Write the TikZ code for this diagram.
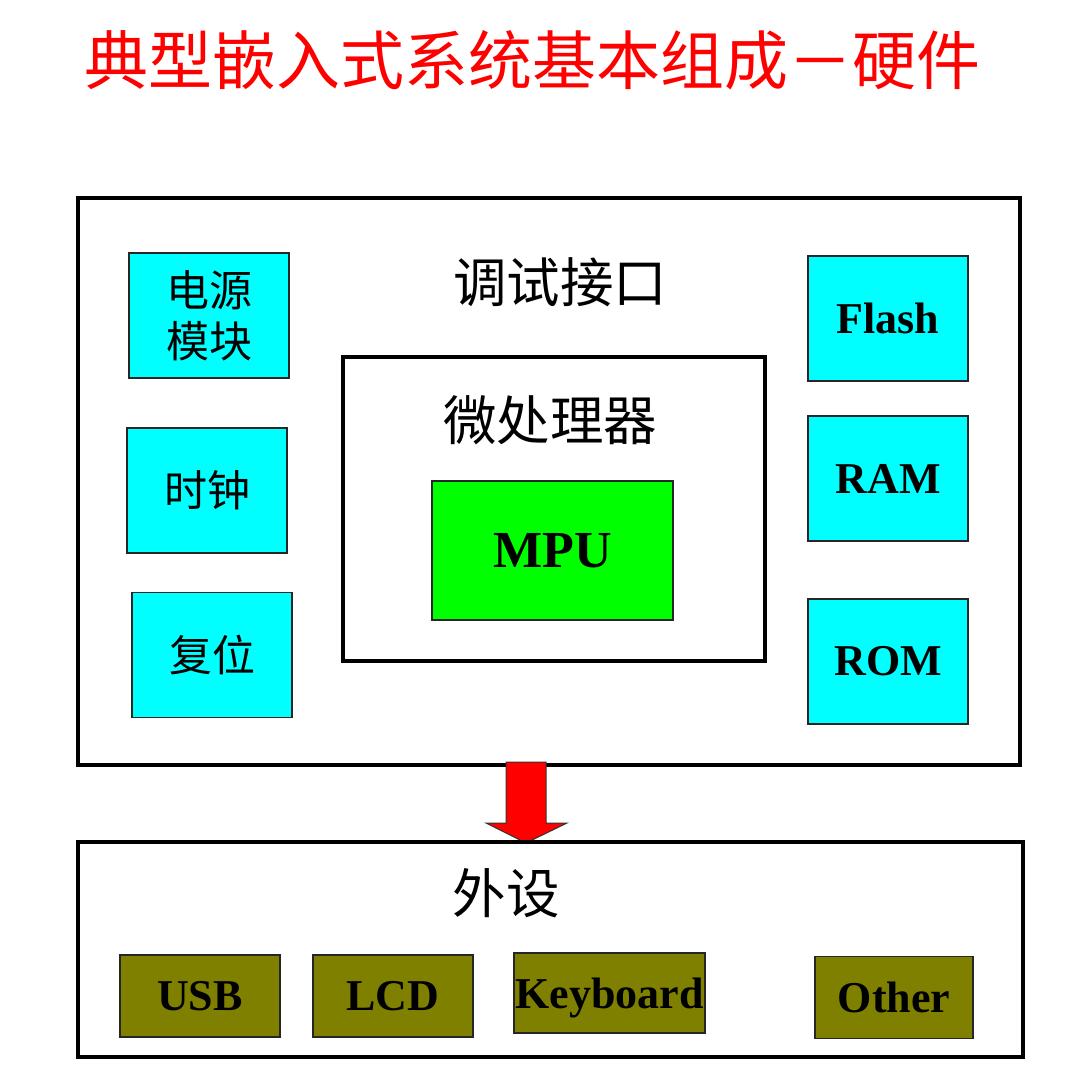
\documentclass[tikz,border=0pt]{standalone}
\usepackage{fontspec}
\setmainfont{Liberation Serif}
\newfontfamily\cjk{Noto Sans CJK SC}
\usetikzlibrary{calc}
\definecolor{boxcyan}{HTML}{00FFFF}
\definecolor{mpugreen}{HTML}{00FF00}
\definecolor{devolive}{HTML}{808000}

\begin{document}
\begin{tikzpicture}[x=1pt, y=-1pt,
    bigbox/.style={draw, line width=4pt, rectangle, inner sep=0pt},
    part/.style={draw=black!85, line width=1.5pt, rectangle, fill=boxcyan, inner sep=0pt,
        minimum width=160pt, minimum height=125pt, align=center},
    dev/.style={draw=black!85, line width=1.5pt, rectangle, fill=devolive, inner sep=0pt,
        minimum width=160pt, minimum height=82pt, font=\fontsize{44}{44}\selectfont\bfseries},
    cjksmall/.style={font=\cjk\fontsize{43}{51}\selectfont},
    cjkbig/.style={font=\cjk\fontsize{53.5}{53.5}\selectfont, inner sep=0pt},
    latin/.style={font=\fontsize{44}{44}\selectfont\bfseries}]
    \useasboundingbox (0,0) rectangle (1070,1076);

    % Title
    \node[font=\cjk\fontsize{64}{64}\selectfont, text=red, inner sep=0pt] (title) at (532,60) {典型嵌入式系统基本组成－硬件};

    % Hardware box
    \node[bigbox, minimum width=942pt, minimum height=567pt] (hw) at (549,481.5) {};
    \node[cjkbig] (debug) at (560,282) {调试接口};

    \node[part, cjksmall] (power) at (209,315.5) {电源\\模块};
    \node[part, cjksmall] (clock) at (207,490.5) {时钟};
    \node[part, cjksmall] (reset) at (212,655) {复位};

    \node[bigbox, minimum width=422pt, minimum height=304pt] (cpu) at (554,509) {};
    \node[cjkbig] (cpulabel) at (550,420) {微处理器};
    \node[part, fill=mpugreen, minimum width=241pt, minimum height=139pt,
        font=\fontsize{52}{52}\selectfont\bfseries] (mpu) at (552.5,550.5) {MPU};

    \node[part, latin] (flash) at (888,318.5) {Flash};
    \node[part, latin] (ram) at (888,478.5) {RAM};
    \node[part, latin] (rom) at (888,661.5) {ROM};

    % Arrow down to the devices
    \coordinate (arrtop) at (526,762);
    \coordinate (arrtip) at (526,843);
    \draw[fill=red, draw=black!80, line width=1pt]
        ($(arrtop)+(-20,0)$) -- ($(arrtop)+(20,0)$) -- ($(arrtip)+(20,-20)$)
        -- ($(arrtip)+(41,-20)$) -- (arrtip) -- ($(arrtip)+(-40,-20)$)
        -- ($(arrtip)+(-20,-20)$) -- cycle;

    % Devices box
    \node[bigbox, minimum width=945pt, minimum height=215pt] (periph) at (550.5,949.5) {};
    \node[cjkbig] (periphlabel) at (506,893) {外设};

    \node[dev] (usb) at (200,996) {USB};
    \node[dev] (lcd) at (393,996) {LCD};
    \node[dev, minimum width=191pt, minimum height=80pt, text depth=0pt] (kbd) at (609.5,993) {Keyboard};
    \node[dev, minimum width=158pt] (other) at (894,997.5) {Other};

\end{tikzpicture}
\end{document}
